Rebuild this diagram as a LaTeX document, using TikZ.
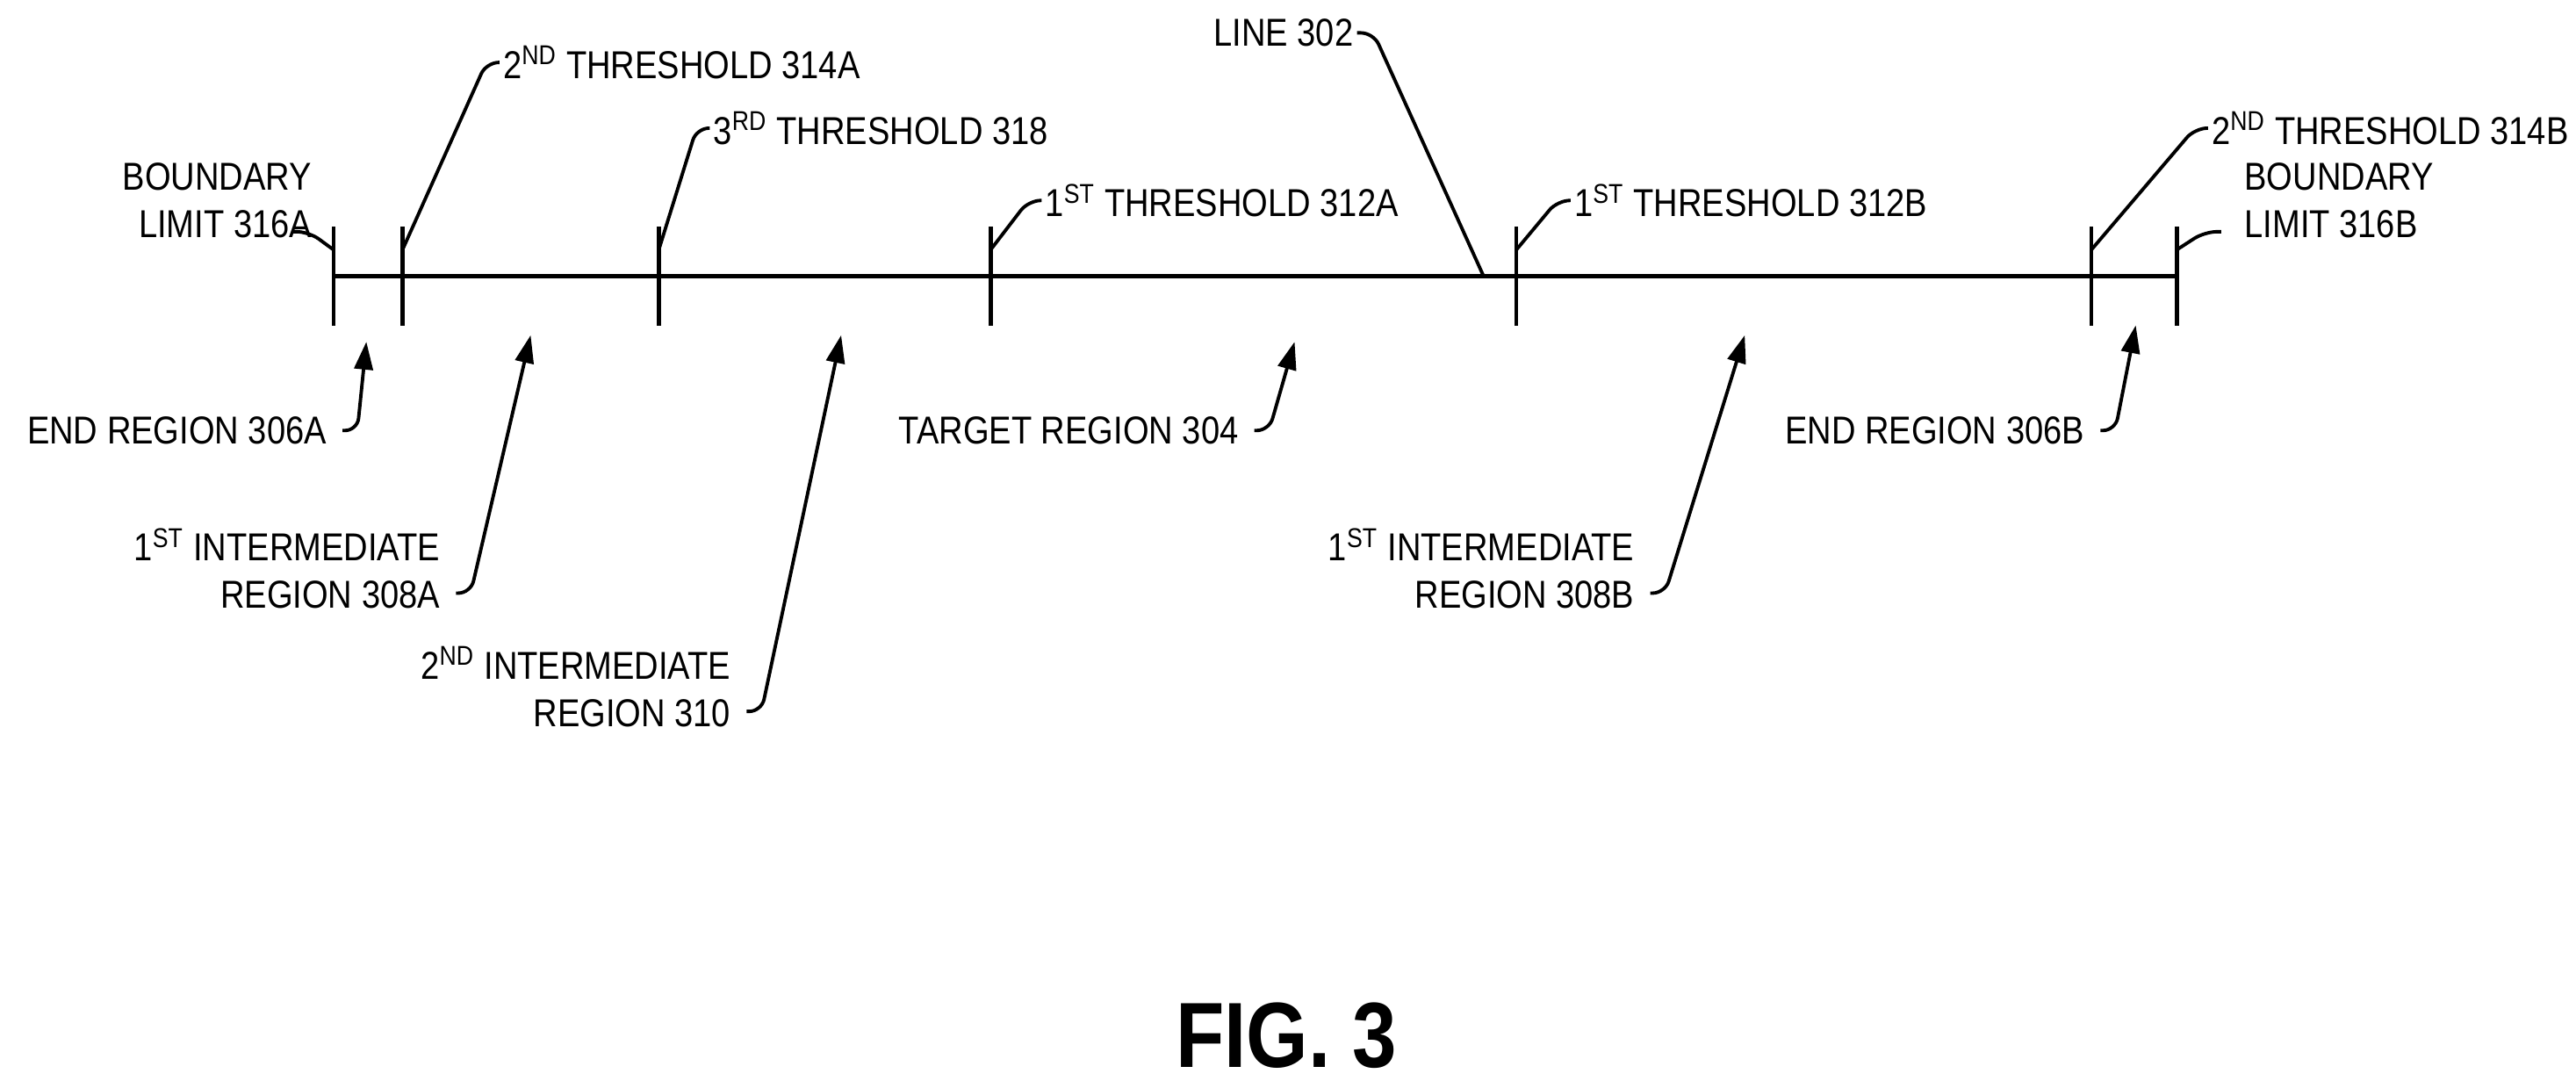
\documentclass[tikz,border=0pt]{standalone}
\usepackage{fontspec}
\setmainfont{Liberation Sans}[FakeStretch=0.86]
\usetikzlibrary{positioning,arrows.meta}

\begin{document}
\begin{tikzpicture}[
    x=0.01871cm, y=-0.01871cm,
    lbl/.style={font=\fontsize{12.6}{15.4}\selectfont, inner sep=1pt, align=left},
    lblr/.style={font=\fontsize{12.6}{15.4}\selectfont, inner sep=1pt, align=right},
    lead/.style={line width=1.1pt, rounded corners=4pt},
    ptr/.style={lead, -{Triangle[length=9pt, width=6pt]}},
    tick/.style={line width=1.3pt}
]
\useasboundingbox (0,0) rectangle (1568,662);

% Main line and ticks
\coordinate (lstart) at (203,168);
\coordinate (lend) at (1325,168);
\draw[tick] (lstart) -- (lend);
\foreach \nm/\xx in {b1/203, t2a/245, t3/401, t1a/603, t1b/923, t2b/1273, b2/1325}{
  \draw[tick] (\xx,138) -- (\xx,198);
  \coordinate (\nm) at (\xx,152);
}
\coordinate (l302) at (903,168);

% Labels above the line
\node[lblr, anchor=east] (blA) at (192,122) {BOUNDARY\\LIMIT 316A};
\node[lbl, anchor=west] (thr314A) at (304,38) {2\textsuperscript{ND} THRESHOLD 314A};
\node[lbl, anchor=west] (thr318) at (432,78) {3\textsuperscript{RD} THRESHOLD 318};
\node[lbl, anchor=west] (thr312A) at (634,122) {1\textsuperscript{ST} THRESHOLD 312A};
\node[lbl, anchor=east] (line302) at (826,20) {LINE 302};
\node[lbl, anchor=west] (thr312B) at (956,122) {1\textsuperscript{ST} THRESHOLD 312B};
\node[lbl, anchor=west] (thr314B) at (1344,78) {2\textsuperscript{ND} THRESHOLD 314B};
\node[lbl, anchor=west] (blB) at (1364,122) {BOUNDARY\\LIMIT 316B};

% Leaders above the line
\draw[lead] (178,141) -- (188,141) -- (b1);
\draw[lead] (thr314A.west) -- ++(-8,0) -- (t2a);
\draw[lead] (thr318.west) -- ++(-8,0) -- (t3);
\draw[lead] (thr312A.west) -- ++(-8,0) -- (t1a);
\draw[lead] (line302.east) -- ++(10,0) -- (l302);
\draw[lead] (thr312B.west) -- ++(-8,0) -- (t1b);
\draw[lead] (thr314B.west) -- ++(-8,0) -- (t2b);
\draw[lead] (1352,141) -- (1342,141) -- (b2);

% Region labels below the line
\node[lblr, anchor=east] (end306A) at (201,262) {END REGION 306A};
\node[lblr, anchor=east] (int308A) at (270,346) {1\textsuperscript{ST} INTERMEDIATE\\REGION 308A};
\node[lblr, anchor=east] (int310) at (447,418) {2\textsuperscript{ND} INTERMEDIATE\\REGION 310};
\node[lblr, anchor=east] (tgt304) at (756,262) {TARGET REGION 304};
\node[lblr, anchor=east] (int308B) at (997,346) {1\textsuperscript{ST} INTERMEDIATE\\REGION 308B};
\node[lblr, anchor=east] (end306B) at (1271,262) {END REGION 306B};

\coordinate (r306A) at (223,208);
\coordinate (r308A) at (323,204);
\coordinate (r310) at (512,204);
\coordinate (r304) at (788,208);
\coordinate (r308B) at (1062,204);
\coordinate (r306B) at (1300,198);

% Region pointers
\draw[ptr] ([xshift=4pt]end306A.east) -- ++(9,0) -- (r306A);
\draw[ptr] ([xshift=4pt,yshift=-0.28cm]int308A.east) -- ++(9,0) -- (r308A);
\draw[ptr] ([xshift=4pt,yshift=-0.28cm]int310.east) -- ++(9,0) -- (r310);
\draw[ptr] ([xshift=4pt]tgt304.east) -- ++(9,0) -- (r304);
\draw[ptr] ([xshift=4pt,yshift=-0.28cm]int308B.east) -- ++(9,0) -- (r308B);
\draw[ptr] ([xshift=4pt]end306B.east) -- ++(9,0) -- (r306B);

\node[font=\fontsize{30}{34}\selectfont\bfseries] (fig) at (783,630) {FIG. 3};
\end{tikzpicture}
\end{document}
